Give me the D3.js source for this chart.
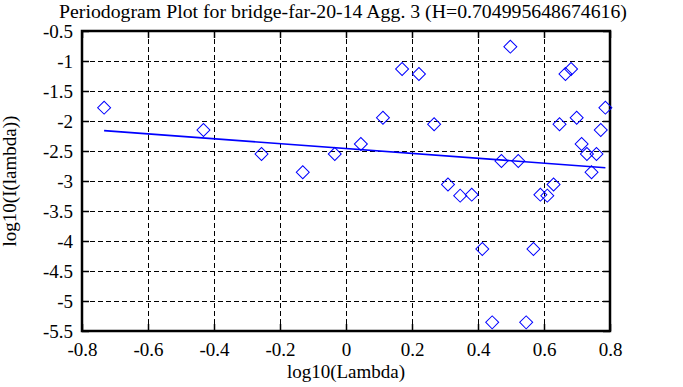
<!DOCTYPE html>
<html>
<head>
<meta charset="utf-8">
<script src="https://cdn.jsdelivr.net/npm/d3@7"></script>
<style>
  html, body { margin: 0; padding: 0; background: #fff; }
  svg { display: block; }
</style>
</head>
<body>
<svg id="chart" width="683" height="387"></svg>
<script>
// ---- data ----
const titleText = "Periodogram Plot for bridge-far-20-14 Agg. 3 (H=0.704995648674616)";
const xLabel = "log10(Lambda)";
const yLabel = "log10(I(lambda))";
const logLambda = [
  -0.733, -0.432, -0.256, -0.131, -0.034, 0.045, 0.112, 0.170, 0.221, 0.267, 0.309,
   0.346,  0.381,  0.413,  0.443,  0.471, 0.498, 0.522, 0.546, 0.568, 0.589, 0.610,
   0.629,  0.647,  0.665,  0.682,  0.699, 0.714, 0.730, 0.744, 0.759, 0.772, 0.786
];
const logI = [
  -1.778, -2.150, -2.550, -2.855, -2.550, -2.383, -1.945, -1.133, -1.217, -2.055, -3.058,
  -3.244, -3.228, -4.133, -5.356, -2.667, -0.761, -2.667, -5.356, -4.133, -3.228, -3.244,
  -3.058, -2.055, -1.217, -1.133, -1.945, -2.383, -2.550, -2.855, -2.550, -2.150, -1.778
];
const fitX = [-0.733, 0.786];
const fitY = [-2.161, -2.778];
const xTicks = [-0.8, -0.6, -0.4, -0.2, 0, 0.2, 0.4, 0.6, 0.8];
const yTicks = [-0.5, -1, -1.5, -2, -2.5, -3, -3.5, -4, -4.5, -5, -5.5];

// ---- layout ----
const FONT = "'Liberation Serif', 'Times New Roman', serif";
const L = 82, R = 610, T = 31, B = 331;
const svg = d3.select("#chart");
const x = d3.scaleLinear().domain([-0.8, 0.8]).range([L, R]);
const y = d3.scaleLinear().domain([-5.5, -0.5]).range([B, T]);
const fmt = d => (d === 0 ? "0" : String(d));
const tickLen = 7;

// grid (dashed)
const grid = svg.append("g").attr("stroke", "#000").attr("stroke-width", 1)
  .attr("stroke-dasharray", "5,3").attr("fill", "none");
xTicks.slice(1, -1).forEach(t => {
  grid.append("line").attr("x1", Math.round(x(t)) + 0.5).attr("x2", Math.round(x(t)) + 0.5)
    .attr("y1", T).attr("y2", B);
});
yTicks.slice(1, -1).forEach(t => {
  grid.append("line").attr("y1", Math.round(y(t)) + 0.5).attr("y2", Math.round(y(t)) + 0.5)
    .attr("x1", L).attr("x2", R);
});

// axes via d3 (inner ticks)
const axB = d3.axisBottom(x).tickValues(xTicks).tickSize(-tickLen).tickSizeOuter(0).tickFormat(fmt).tickPadding(12);
const axT = d3.axisTop(x).tickValues(xTicks).tickSize(-tickLen).tickSizeOuter(0).tickFormat("");
const axL = d3.axisLeft(y).tickValues(yTicks).tickSize(-tickLen).tickSizeOuter(0).tickFormat(fmt).tickPadding(9);
const axR = d3.axisRight(y).tickValues(yTicks).tickSize(-tickLen).tickSizeOuter(0).tickFormat("");

function styleAxis(g) {
  g.attr("font-family", null).attr("font-size", null);
  g.select(".domain").remove();
  g.selectAll(".tick line").attr("stroke", "#000").attr("stroke-width", 1.5);
  g.selectAll(".tick text").style("font-size", "19px").style("font-family", FONT).attr("fill", "#000");
}
svg.append("g").attr("transform", `translate(0,${B})`).call(axB).call(styleAxis);
svg.append("g").attr("transform", `translate(0,${T})`).call(axT).call(styleAxis);
svg.append("g").attr("transform", `translate(${L},0)`).call(axL).call(styleAxis);
svg.append("g").attr("transform", `translate(${R},0)`).call(axR).call(styleAxis);

// frame
svg.append("rect").attr("x", L).attr("y", T).attr("width", R - L).attr("height", B - T)
  .attr("fill", "none").attr("stroke", "#000").attr("stroke-width", 2.5);

// fit line
svg.append("line")
  .attr("x1", x(fitX[0])).attr("y1", y(fitY[0]))
  .attr("x2", x(fitX[1])).attr("y2", y(fitY[1]))
  .attr("stroke", "#0000ff").attr("stroke-width", 1.6);

// diamonds
const pts = logLambda.map((v, i) => ({ x: v, y: logI[i] }));
const sq = d3.symbol().type(d3.symbolSquare).size(84);
svg.append("g").selectAll("path").data(pts).join("path")
  .attr("d", sq)
  .attr("transform", d => `translate(${x(d.x)},${y(d.y)}) rotate(45)`)
  .attr("fill", "none").attr("stroke", "#0000ff").attr("stroke-width", 1);

// titles
svg.append("text").attr("x", 343).attr("y", 17.8).attr("text-anchor", "middle")
  .style("font-family", FONT).style("font-size", "19.8px").text(titleText);
svg.append("text").attr("x", (L + R) / 2).attr("y", 378).attr("text-anchor", "middle")
  .style("font-family", FONT).style("font-size", "19px").text(xLabel);
svg.append("text").attr("transform", `translate(15.5,${(T + B) / 2}) rotate(-90)`)
  .attr("text-anchor", "middle").style("font-family", FONT).style("font-size", "19px").text(yLabel);
</script>
</body>
</html>
